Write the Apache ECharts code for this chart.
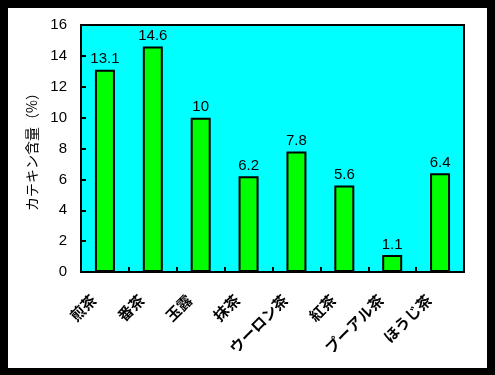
<!DOCTYPE html>
<html><head><meta charset="utf-8">
<script src="https://cdn.jsdelivr.net/npm/echarts@6/dist/echarts.min.js"></script>
<style>html,body{margin:0;padding:0;background:#000}#c{width:495px;height:375px}</style>
</head><body><div id="c"></div>
<script>
const categories = ['煎茶','番茶','玉露','抹茶','ウーロン茶','紅茶','プーアル茶','ほうじ茶'];
const values = [13.1, 14.6, 10, 6.2, 7.8, 5.6, 1.1, 6.4];
const yName = 'カテキン含量（%）';
const font = "'Noto Sans CJK JP', sans-serif";
const chart = echarts.init(document.getElementById('c'));
chart.setOption({
  backgroundColor: '#000',
  animation: false,
  graphic: [{type:'rect', z:-10, shape:{x:8,y:8,width:479,height:360}, style:{fill:'#fff'}}],
  grid: {left:81, top:25, right:31, bottom:103, show:true, backgroundColor:'#00FFFF', borderColor:'#000', borderWidth:2},
  xAxis: {
    type:'category', data: categories,
    axisLine:{show:true, lineStyle:{color:'#000', width:2}},
    axisTick:{show:true, inside:true, length:5, lineStyle:{color:'#000', width:2}},
    axisLabel:{rotate:45, color:'#000', fontSize:15, fontFamily:font, fontWeight:'bold', margin:14, padding:[0,16,0,0]}
  },
  yAxis: {
    type:'value', min:0, max:16, interval:2,
    name: yName, nameLocation:'middle', nameGap:42, nameRotate:90,
    nameTextStyle:{color:'#000', fontSize:14, fontFamily:font},
    axisLine:{show:true, lineStyle:{color:'#000', width:2}},
    axisTick:{show:true, inside:true, length:5, lineStyle:{color:'#000', width:2}},
    axisLabel:{color:'#000', fontSize:15, fontFamily:"'Liberation Sans', sans-serif", margin:14},
    splitLine:{show:false}
  },
  series: [{
    type:'bar', data: values, barWidth:20,
    itemStyle:{color:'#00FF00', borderColor:'#000', borderWidth:2},
    label:{show:true, position:'top', color:'#000', fontSize:15, fontFamily:"'Liberation Sans', sans-serif", distance:3}
  }]
});
</script></body></html>
